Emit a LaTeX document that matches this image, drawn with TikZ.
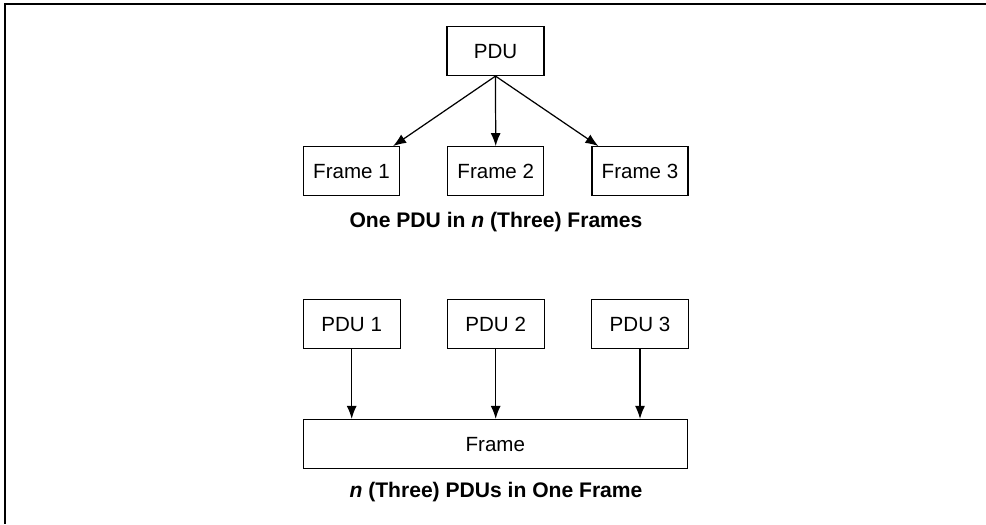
\documentclass[tikz,border=0pt]{standalone}
\usepackage{fontspec}
\setmainfont{Liberation Sans}
\usepackage{tikz}
\usetikzlibrary{arrows.meta}

\begin{document}
\begin{tikzpicture}[x=0.02cm,y=-0.02cm,
  box/.style={draw,line width=0.7pt,minimum height=0.98cm,inner sep=0pt,
    text height=8.4pt,text depth=0pt,font=\fontsize{11.7}{13}\selectfont},
  caption/.style={anchor=base,font=\fontsize{12}{14}\selectfont\bfseries},
  link/.style={line width=0.7pt,-{Latex[length=2.6mm,width=2mm]}}]
\useasboundingbox (0,0) rectangle (986,524);
\draw[line width=1.3pt] (986,4) -- (5,4) -- (5,524);
\node[box,minimum width=1.94cm] (pdu) at (495.5,51) {PDU};
\node[box,minimum width=1.92cm] (f1) at (351.5,171.2) {Frame 1};
\node[box,minimum width=1.92cm] (f2) at (495.7,171.2) {Frame 2};
\node[box,minimum width=1.92cm] (f3) at (640,171.2) {Frame 3};
\node[caption] (cap1) at (496,227.3) {One PDU in \textit{n} (Three) Frames};
\draw[link] (pdu.south) -- ([xshift=-0.14cm]f1.north east);
\draw[link] (pdu.south) -- (f2.north);
\draw[link] (pdu.south) -- ([xshift=0.14cm]f3.north west);
\node[box,minimum width=1.94cm] (p1) at (351.7,323.8) {PDU 1};
\node[box,minimum width=1.94cm] (p2) at (495.7,323.8) {PDU 2};
\node[box,minimum width=1.94cm] (p3) at (640,323.8) {PDU 3};
\node[box,minimum width=7.68cm] (fr) at (495.3,444) {Frame};
\node[caption] (cap2) at (496,497.3) {\textit{n} (Three) PDUs in One Frame};
\draw[link] (p1.south) -- (p1.south |- fr.north);
\draw[link] (p2.south) -- (p2.south |- fr.north);
\draw[link] (p3.south) -- (p3.south |- fr.north);
\end{tikzpicture}
\end{document}
